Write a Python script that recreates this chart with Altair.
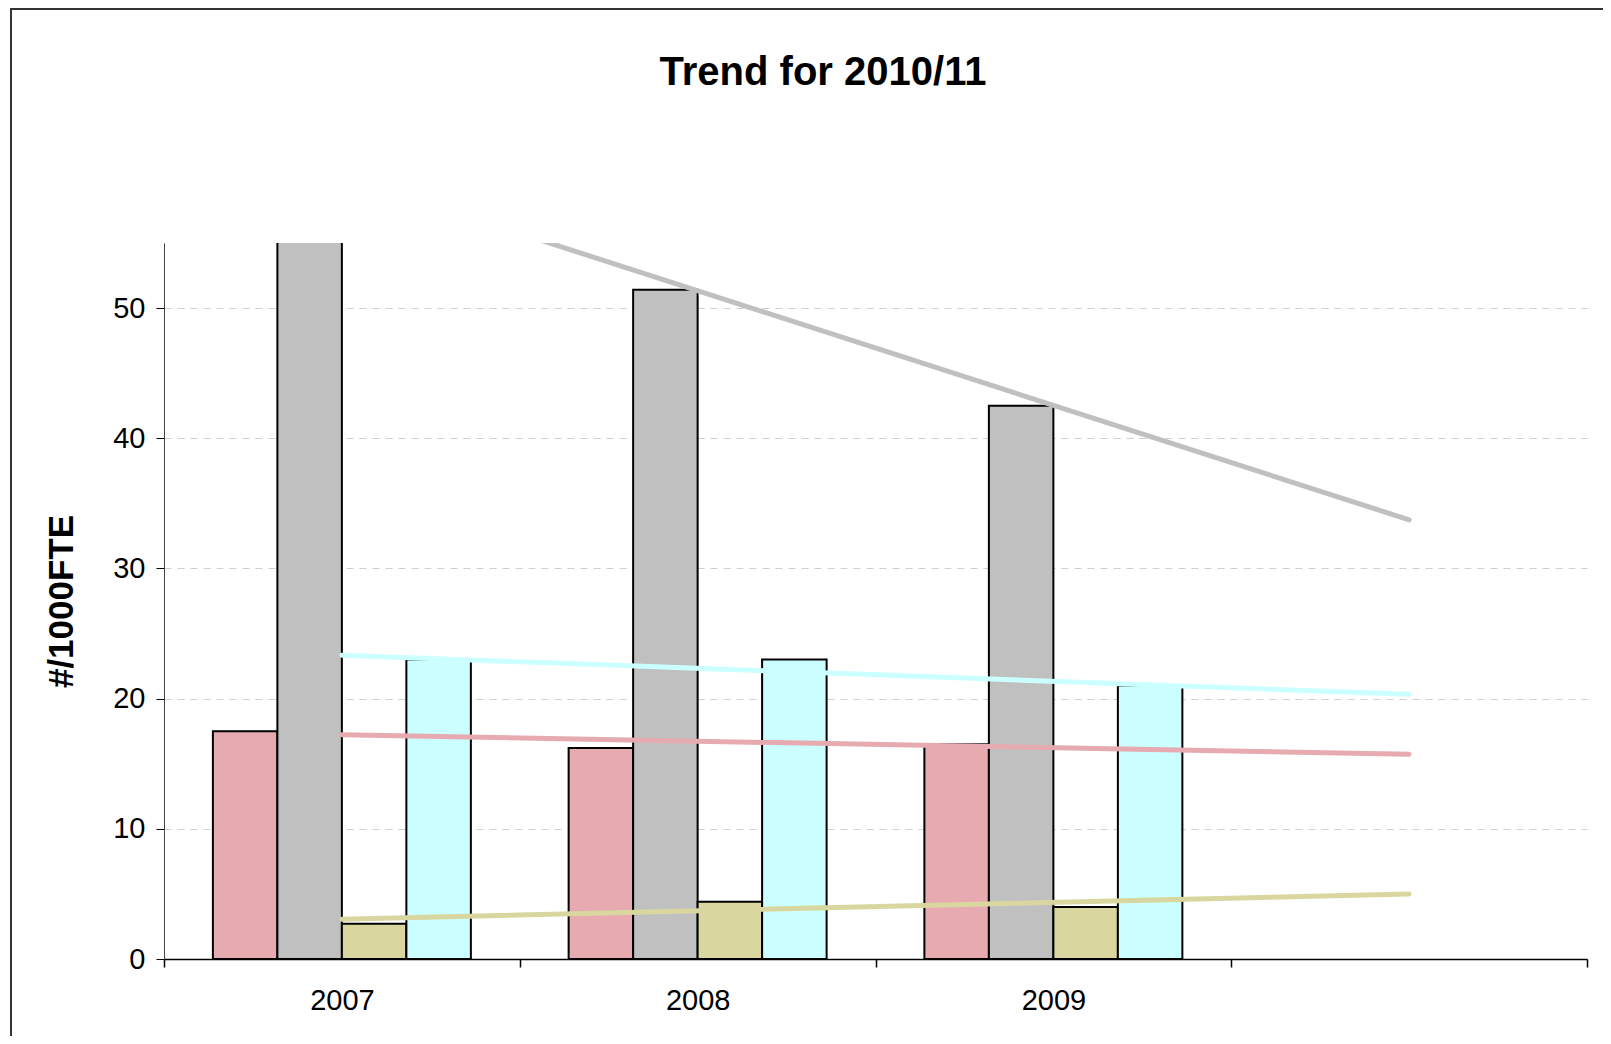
import altair as alt
import pandas as pd

years = [2007, 2008, 2009]
all_years = [2007, 2008, 2009, 2010]
series = ["Series 1", "Series 2", "Series 3", "Series 4"]
colors = ["#E6AAB0", "#C0C0C0", "#D9D79F", "#CCFFFF"]

pink = [17.5, 16.2, 16.5]
gray = [60.1, 51.4, 42.5]
khaki = [2.7, 4.4, 4.0]
cyan = [23.0, 23.0, 21.0]

title_text = "Trend for 2010/11"
y_title = "#/1000FTE"

rows = []
for name, vals in zip(series, [pink, gray, khaki, cyan]):
    for yr, v in zip(years, vals):
        rows.append({"year": yr, "series": name, "value": v})
df = pd.DataFrame(rows)

FONT = "Liberation Sans"

x_enc = alt.X(
    "year:O",
    scale=alt.Scale(domain=all_years, paddingInner=0, paddingOuter=0),
    axis=alt.Axis(
        title=None,
        tickBand="extent",
        labelExpr="datum.value == 2010 ? '' : datum.label",
        labelAngle=0,
        labelFont=FONT,
        labelFontSize=29,
        labelColor="black",
        labelPadding=19,
        tickSize=8,
        tickColor="black",
        tickWidth=1.5,
        domainColor="black",
        domainWidth=1.5,
        grid=False,
    ),
)

y_enc = alt.Y(
    "value:Q",
    scale=alt.Scale(domain=[0, 55], nice=False),
    axis=alt.Axis(
        title=y_title,
        titleFont=FONT,
        titleFontSize=35,
        titleFontWeight="bold",
        titleColor="black",
        titlePadding=33,
        values=[0, 10, 20, 30, 40, 50],
        labelFont=FONT,
        labelFontSize=29,
        labelColor="black",
        labelPadding=11,
        tickSize=8,
        tickColor="black",
        domainColor="#444444",
        domainWidth=1,
        grid=True,
        gridColor="#d0d0d0",
        gridDash=[7, 6],
        gridWidth=1,
    ),
)

color_enc = alt.Color(
    "series:N", scale=alt.Scale(domain=series, range=colors), legend=None
)

bars = alt.Chart(df).mark_bar(stroke="black", strokeWidth=2, clip=True).encode(
    x=x_enc,
    xOffset=alt.XOffset(
        "series:N",
        scale=alt.Scale(domain=series, paddingInner=0, paddingOuter=0.758),
    ),
    y=y_enc,
    color=color_enc,
)

trends = (
    alt.Chart(df)
    .transform_regression("year", "value", groupby=["series"], extent=[2007, 2010])
    .mark_line(strokeWidth=5, clip=True, strokeCap="round")
    .encode(x="year:O", y="value:Q", color=color_enc)
)

one = pd.DataFrame({"v": [0]})

frame = (
    alt.Chart(one)
    .mark_rect(fill="white", fillOpacity=0, stroke="#333333", strokeWidth=2)
    .encode(
        x=alt.value(-153), x2=alt.value(1600), y=alt.value(-234), y2=alt.value(950)
    )
)

title = (
    alt.Chart(one)
    .mark_text(
        text=title_text,
        font=FONT,
        fontSize=40,
        fontWeight="bold",
        color="black",
        align="center",
        baseline="alphabetic",
    )
    .encode(x=alt.value(659), y=alt.value(-158))
)

chart = (
    alt.layer(bars, trends, frame, title)
    .properties(
        width=1423,
        height=716,
        background="white",
        autosize=alt.AutoSizeParams(type="none"),
        padding={"left": 156, "top": 235, "right": 16, "bottom": 77},
    )
    .configure_view(strokeWidth=0, stroke="transparent")
)

chart.save("out.html", embed_options={"renderer": "svg", "actions": False})
